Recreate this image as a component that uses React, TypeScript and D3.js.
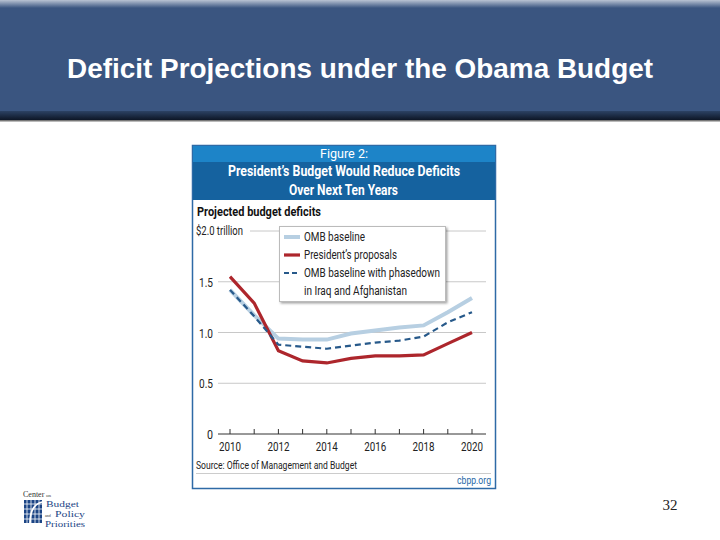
import React from "react";
import * as d3 from "d3";

const years = [2010, 2011, 2012, 2013, 2014, 2015, 2016, 2017, 2018, 2019, 2020];
const ombBaseline = [1.42, 1.17, 0.94, 0.93, 0.93, 0.99, 1.02, 1.05, 1.07, 1.2, 1.34];
const presidentsProposals = [1.55, 1.29, 0.82, 0.72, 0.7, 0.745, 0.77, 0.77, 0.78, 0.89, 1.0];
const ombPhasedown = [1.42, 1.16, 0.88, 0.86, 0.84, 0.87, 0.9, 0.92, 0.96, 1.1, 1.2];
const yTicks = [0, 0.5, 1.0, 1.5, 2.0];
const yTickLabels = ["0", "0.5", "1.0", "1.5", "$2.0 trillion"];
const xLabelYears = [2010, 2012, 2014, 2016, 2018, 2020];

const narrow = "Roboto, 'Open Sans', sans-serif";

// squeezed text, the original uses a condensed face we don't have
const T = ({ x, y, w, size, bold, anchor, fill, children }: any) => (
  <text
    x={x}
    y={y}
    textAnchor={anchor || "start"}
    fill={fill || "#222"}
    fontFamily={narrow}
    fontWeight={bold ? "bold" : "normal"}
    fontSize={size}
    textLength={w}
    lengthAdjust="spacingAndGlyphs"
  >
    {children}
  </text>
);

export default function App() {
  const x = d3.scaleLinear().domain([2010, 2020]).range([230, 472]);
  const y = d3.scaleLinear().domain([0, 2]).range([434, 231]);

  const line = d3
    .line<number>()
    .x((d, i) => x(years[i]))
    .y((d) => y(d));

  return (
    <svg width={720} height={540} style={{ position: "absolute", left: 0, top: 0 }}>
      <defs>
        <linearGradient id="topfade" x1="0" y1="0" x2="0" y2="1">
          <stop offset="0" stopColor="#b9c3d3" />
          <stop offset="1" stopColor="#3a5580" />
        </linearGradient>
        <linearGradient id="bottomfade" x1="0" y1="0" x2="0" y2="1">
          <stop offset="0" stopColor="#2c4264" />
          <stop offset="1" stopColor="#0d1626" />
        </linearGradient>
        <filter id="shadow" x="-10%" y="-10%" width="130%" height="130%">
          <feDropShadow dx="1.5" dy="1.5" stdDeviation="1.2" floodColor="#000" floodOpacity="0.35" />
        </filter>
      </defs>
      <rect width={720} height={540} fill="#fff" />

      {/* slide header */}
      <rect x={0} y={0} width={720} height={120} fill="#3a5580" />
      <rect x={0} y={0} width={720} height={8} fill="url(#topfade)" />
      <rect x={0} y={111} width={720} height={9} fill="url(#bottomfade)" />
      <rect x={0} y={120} width={720} height={1.5} fill="#777" />
      <text
        x={360}
        y={78}
        textAnchor="middle"
        fill="#fff"
        fontFamily="'Liberation Sans', Arial, sans-serif"
        fontWeight="bold"
        fontSize={27}
        textLength={586}
        lengthAdjust="spacingAndGlyphs"
      >
        Deficit Projections under the Obama Budget
      </text>

      {/* chart box */}
      <rect x={192.5} y={145.5} width={303} height={343} fill="#fff" stroke="#2e6aa6" strokeWidth={1.5} />
      <rect x={193} y={146} width={302} height={17} fill="#1d84c8" />
      <rect x={193} y={162} width={302} height={38} fill="#15629f" />
      <T x={320} y={158} w={48} size={13} fill="#fff">
        Figure 2:
      </T>
      <T x={228} y={176} w={232} size={14} bold fill="#fff">
        President’s Budget Would Reduce Deficits
      </T>
      <T x={289} y={195} w={109} size={14} bold fill="#fff">
        Over Next Ten Years
      </T>

      <T x={197} y={216} w={124} size={12} bold fill="#111">
        Projected budget deficits
      </T>

      {/* grid + y labels */}
      {yTicks.map((t, i) => (
        <g key={t}>
          {t > 0 && (
            <line
              x1={i === yTicks.length - 1 ? 250 : 218}
              x2={486}
              y1={y(t)}
              y2={y(t)}
              stroke="#c8c8c8"
              strokeWidth={1}
            />
          )}
          {i === yTicks.length - 1 ? (
            <T x={196} y={y(t) + 4} w={47} size={12}>
              {yTickLabels[i]}
            </T>
          ) : (
            <T x={i === 0 ? 207 : 199} y={y(t) + 5} w={i === 0 ? 6 : 14} size={12.5}>
              {yTickLabels[i]}
            </T>
          )}
        </g>
      ))}

      {/* x axis */}
      <line x1={218} x2={486} y1={y(0)} y2={y(0)} stroke="#333" strokeWidth={1} />
      {years.map((yr) => (
        <line key={yr} x1={x(yr)} x2={x(yr)} y1={y(0)} y2={y(0) - 5} stroke="#333" strokeWidth={1} />
      ))}
      {xLabelYears.map((yr) => (
        <T key={yr} x={x(yr)} y={451} w={22} size={13} anchor="middle">
          {yr}
        </T>
      ))}

      {/* series */}
      <path d={line(ombBaseline) || ""} fill="none" stroke="#b7cfe2" strokeWidth={4} />
      <path d={line(presidentsProposals) || ""} fill="none" stroke="#ad262c" strokeWidth={3.2} />
      <path d={line(ombPhasedown) || ""} fill="none" stroke="#27598a" strokeWidth={2.2} strokeDasharray="6,4" />

      {/* legend */}
      <rect x={279.5} y={226.5} width={166} height={75} fill="#fff" stroke="#bbb" strokeWidth={1} filter="url(#shadow)" />
      <line x1={284} x2={300} y1={237} y2={237} stroke="#b7cfe2" strokeWidth={4} />
      <T x={304} y={241} w={61} size={12.5}>
        OMB baseline
      </T>
      <line x1={284} x2={300} y1={255} y2={255} stroke="#ad262c" strokeWidth={3.2} />
      <T x={304} y={259} w={93} size={12.5}>
        President’s proposals
      </T>
      <line x1={284} x2={300} y1={273} y2={273} stroke="#27598a" strokeWidth={2.2} strokeDasharray="5,3" />
      <T x={304} y={277} w={136} size={12.5}>
        OMB baseline with phasedown
      </T>
      <T x={304} y={295} w={103} size={12.5}>
        in Iraq and Afghanistan
      </T>

      {/* source */}
      <T x={196} y={469} w={161} size={10.5}>
        Source: Office of Management and Budget
      </T>
      <line x1={196} x2={491} y1={473.5} y2={473.5} stroke="#ccc" strokeWidth={1} />
      <T x={491} y={484} w={34} size={11} anchor="end" fill="#2a6aa8">
        cbpp.org
      </T>

      {/* logo */}
      <g fill="#1c4585" fontFamily="'Liberation Serif', serif">
        <text x={23} y={497} fontSize={8} fill="#333">
          Center
        </text>
        <text x={46} y={497} fontSize={5} fill="#333">
          on
        </text>
        <rect x={24} y={500} width={18} height={23} fill="#1c4585" />
        {[0, 1, 2, 3].map((i) => (
          <line key={"v" + i} x1={27 + i * 4} x2={27 + i * 4} y1={500} y2={523} stroke="#fff" strokeWidth={0.8} />
        ))}
        {[0, 1, 2, 3].map((i) => (
          <line key={"h" + i} x1={24} x2={42} y1={504 + i * 5} y2={504 + i * 5} stroke="#fff" strokeWidth={0.8} />
        ))}
        <path d="M30,523 Q30,505 42,502" fill="none" stroke="#fff" strokeWidth={1.8} />
        <text x={46} y={507} fontSize={8.5} textLength={33} lengthAdjust="spacingAndGlyphs">
          Budget
        </text>
        <text x={45} y={516.5} fontSize={4} fill="#333">
          and
        </text>
        <text x={55} y={517} fontSize={8.5} textLength={30} lengthAdjust="spacingAndGlyphs">
          Policy
        </text>
        <text x={45} y={527} fontSize={8.5} textLength={40} lengthAdjust="spacingAndGlyphs">
          Priorities
        </text>
      </g>

      <text x={670} y={510} textAnchor="middle" fill="#222" fontFamily="'Liberation Serif', serif" fontSize={15}>
        32
      </text>
    </svg>
  );
}
